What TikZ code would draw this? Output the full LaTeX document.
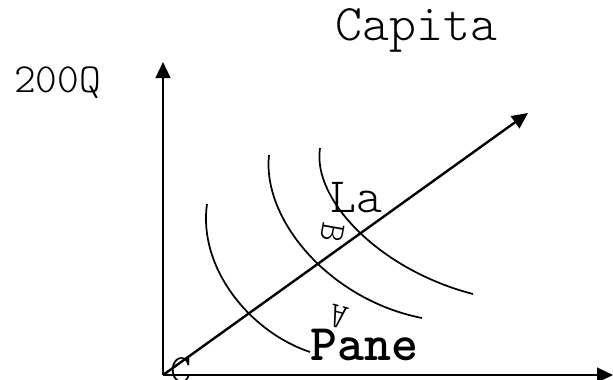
\documentclass[tikz,border=0pt]{standalone}
\usepackage{fontspec}
\newfontfamily\courlike{lmmonolt10-regular}[Extension=.otf, BoldFont=lmmonolt10-bold]
\usetikzlibrary{arrows.meta}
\newcommand{\lblsize}[1]{\fontsize{#1}{#1}\selectfont\courlike}

\begin{document}
\begin{tikzpicture}[x=0.75pt, y=-0.75pt, every node/.style={inner sep=0pt, anchor=base west},
    axis/.style={line width=1.8pt, -{Triangle[length=12pt, width=11pt]}},
    curve/.style={line width=1.3pt}]
  \useasboundingbox (0,0) rectangle (613,379);
  % axes
  \coordinate (O) at (163,375);
  \coordinate (xend) at (613,375);
  \coordinate (yend) at (163,62);
  \coordinate (dend) at (528,113);
  \draw[axis] (O) -- (xend);
  \draw[axis] (O) -- (yend);
  \draw[axis] (O) -- (dend);
  % indifference curves
  \draw[curve] (207,204) .. controls (198,268) and (250,332) .. (310,352);
  \draw[curve] (269,155) .. controls (262,220) and (330,300) .. (422,318);
  \draw[curve] (320,148) .. controls (312,200) and (380,270) .. (473,294);
  % labels
  \node (capita) at (335,40) {\lblsize{38.5}Capita};
  \node (qty) at (14,92) {\lblsize{31}200Q};
  \node (la) at (330,212) {\lblsize{37}La};
  \node (pane) at (310,360) {\lblsize{38.5}\bfseries Pane};
  \node[anchor=center, rotate=-100] (ptb) at (333,233) {\lblsize{27}B};
  \node[anchor=center, rotate=165] (pta) at (338,317) {\lblsize{27}A};
  \node[anchor=base] (ptc) at (181,382) {\lblsize{30}C};
\end{tikzpicture}
\end{document}
